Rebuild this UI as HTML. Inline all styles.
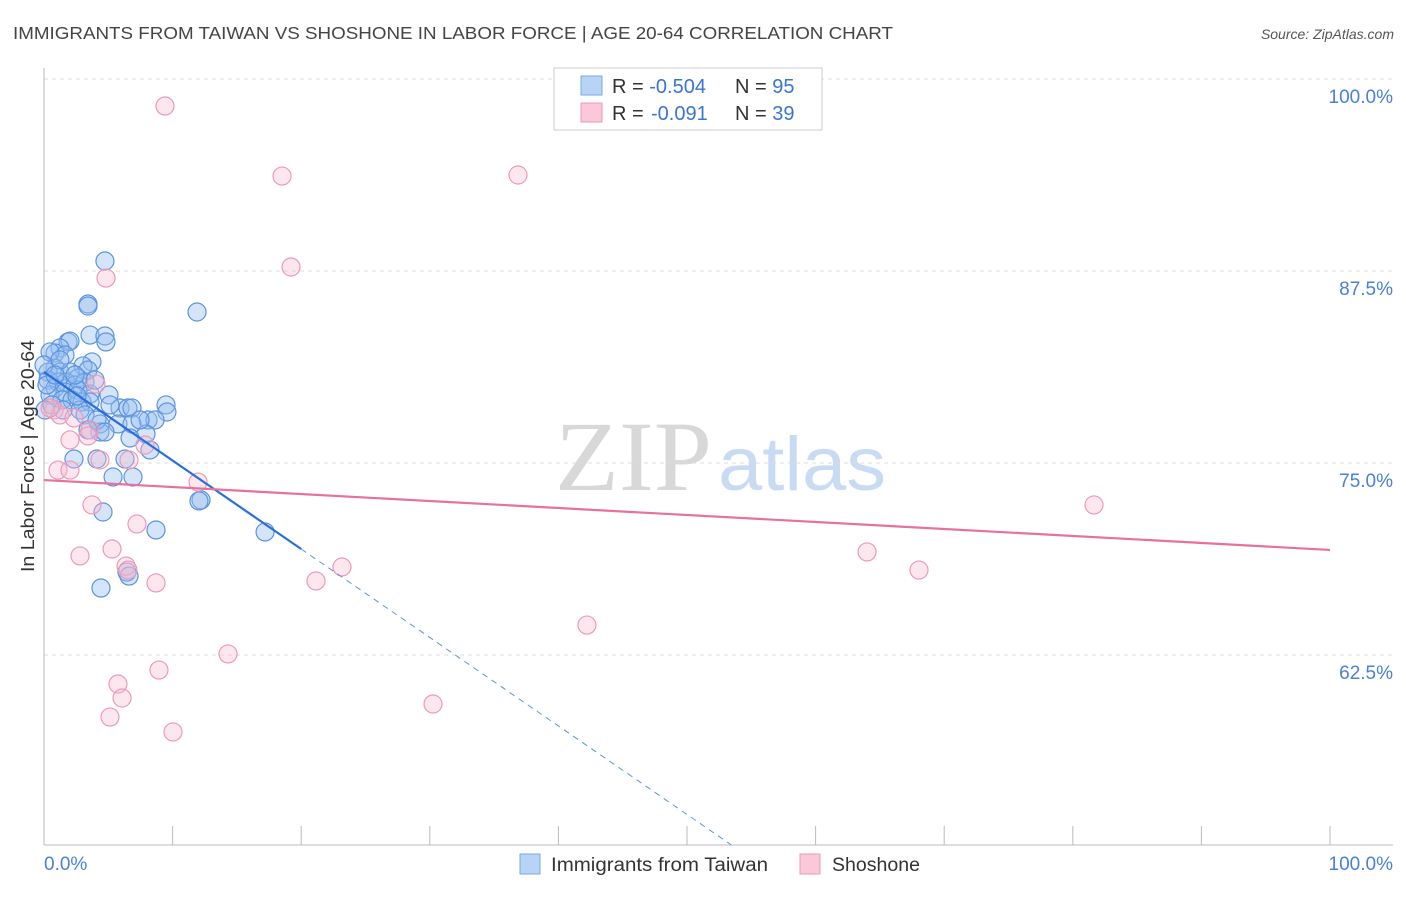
<!DOCTYPE html>
<html><head><meta charset="utf-8"><style>
body{margin:0;background:#fff;font-family:"Liberation Sans",sans-serif}
svg text{font-family:"Liberation Sans",sans-serif}
</style></head><body>
<svg id="chart" width="1406" height="892" xmlns="http://www.w3.org/2000/svg">
<text x="13" y="39" font-size="17.5" fill="#444" textLength="880" lengthAdjust="spacingAndGlyphs">IMMIGRANTS FROM TAIWAN VS SHOSHONE IN LABOR FORCE | AGE 20-64 CORRELATION CHART</text>
<text x="1394" y="39" font-size="14" fill="#555" font-style="italic" text-anchor="end">Source: ZipAtlas.com</text>
<g>
<text x="555" y="490" font-size="100" fill="#d8d8d8" textLength="157" lengthAdjust="spacingAndGlyphs" style="font-family:'Liberation Serif',serif">ZIP</text>
<text x="718" y="490" font-size="76" fill="#c8dbf2" textLength="168" lengthAdjust="spacingAndGlyphs">atlas</text>
</g>
<g id="grid"></g><g id="axes"></g><g id="pts"></g><g id="lines"></g>
<text transform="translate(34,456) rotate(-90)" font-size="18" fill="#333" text-anchor="middle" textLength="232" lengthAdjust="spacingAndGlyphs">In Labor Force | Age 20-64</text>
<g>
<rect x="554" y="68" width="268" height="62" fill="#fff" stroke="#ccc"/>
<rect x="581" y="76" width="21" height="19" fill="#b7d3f5" stroke="#7aa8e6"/>
<rect x="581" y="103" width="21" height="19" fill="#fac8d8" stroke="#ee9ab4"/>
<text x="612" y="93" font-size="20" fill="#333">R = <tspan fill="#3a74d4">-0.504</tspan><tspan x="735">N = </tspan><tspan fill="#3a74d4">95</tspan></text>
<text x="612" y="120" font-size="20" fill="#333">R = <tspan fill="#3a74d4" x="651">-0.091</tspan><tspan x="735">N = </tspan><tspan fill="#3a74d4">39</tspan></text>
</g>
<g>
<rect x="520" y="854" width="20" height="20" fill="#b7d3f5" stroke="#7aa8e6"/>
<text x="551" y="871" font-size="19" fill="#333" textLength="217" lengthAdjust="spacingAndGlyphs">Immigrants from Taiwan</text>
<rect x="800" y="854" width="20" height="20" fill="#fac8d8" stroke="#ee9ab4"/>
<text x="832" y="871" font-size="19" fill="#333" textLength="88" lengthAdjust="spacingAndGlyphs">Shoshone</text>
</g>
</svg>
<script>
const blueX=[4.74,3.42,3.42,11.9,3.58,4.74,4.82,1.87,2.02,1.24,0.86,1.63,3.73,3.03,3.42,0.47,0.86,0.31,1.24,2.02,2.64,0.31,1.09,1.71,2.41,3.19,0.86,1.63,2.64,3.58,5.05,0.47,1.4,2.18,2.95,3.58,5.91,6.53,6.84,9.49,9.56,0.62,2.8,3.19,8.09,8.63,4.35,5.75,6.84,4.35,6.69,7.93,2.33,4.12,6.3,8.24,5.37,6.92,12.21,12.05,4.59,8.71,17.19,6.45,6.61,4.43,0,0.23,0.08,1.24,2.41,3.97,0.86,1.48,2.57,4.12,4.74,3.42,7.47,5.13];
const blueY=[88.15,85.35,85.22,84.83,83.33,83.27,82.88,82.88,82.94,82.49,82.16,82.03,81.58,81.32,81.05,82.23,81.18,80.92,80.92,80.92,80.53,80.4,80.27,80.27,80.08,80.27,79.88,79.62,79.75,79.49,79.43,79.43,79.1,79.1,78.97,78.97,78.58,78.58,78.58,78.78,78.32,78.78,78.45,78.13,77.8,77.8,77.54,77.54,77.54,77.02,76.63,76.89,75.26,75.26,75.26,75.85,74.09,74.09,72.59,72.53,71.81,70.64,70.51,67.9,67.64,66.86,81.38,80.08,78.45,81.71,80.73,80.4,80.73,78.45,79.36,77.8,77.02,77.15,77.8,78.78];
const pinkX=[9.41,18.51,36.86,19.21,4.82,4.04,0.78,1.24,2.33,3.58,2.02,4.35,6.61,1.09,2.02,3.73,11.98,7.23,2.8,5.29,6.38,6.53,8.71,21.15,23.17,64.0,68.04,81.65,42.22,14.31,8.94,5.75,6.07,5.13,30.25,10.03,0.47,7.85,3.42];
const pinkY=[98.24,93.68,93.75,87.76,87.04,80.14,78.45,78.13,77.93,77.15,76.5,75.2,75.2,74.54,74.54,72.27,73.76,71.03,68.95,69.4,68.29,68.03,67.19,67.32,68.23,69.21,68.03,72.27,64.45,62.57,61.52,60.61,59.7,58.46,59.31,57.49,78.58,76.17,76.76];
const yTicks=[100,87.5,75,62.5];
const yTickLabels=["100.0%","87.5%","75.0%","62.5%"];
const blueTrend=[80.92,-0.576];
const pinkTrend=[73.89,-0.0455];
const NS="http://www.w3.org/2000/svg";
const sx=p=>44+p*12.86, sy=v=>79+(100-v)*15.36;
function mk(tag,attrs,parent){const e=document.createElementNS(NS,tag);for(const k in attrs)e.setAttribute(k,attrs[k]);document.getElementById(parent).appendChild(e);return e;}
yTicks.forEach((t,i)=>{
 const g=mk('line',{x1:44,x2:1393,y1:sy(t),y2:sy(t),stroke:'#ddd','stroke-dasharray':'4,4'},'grid');
 
 
 const l=mk('text',{x:1393,y:sy(t)+24,'font-size':19,fill:'#4a80d8','text-anchor':'end'},'axes');
 l.textContent=yTickLabels[i];
 
 
});
let a=mk('line',{x1:44,x2:44,y1:68,y2:845,stroke:'#bbb'},'axes');


a=mk('line',{x1:44,x2:1393,y1:845,y2:845,stroke:'#bbb'},'axes');


for(let i=0;i<=10;i++){const t=mk('line',{x1:sx(i*10),x2:sx(i*10),y1:826,y2:845,stroke:'#bbb'},'axes');
 
 }
let xl=mk('text',{x:44,y:870,'font-size':19,fill:'#4a80d8'},'axes');xl.textContent='0.0%';


xl=mk('text',{x:1393,y:870,'font-size':19,fill:'#4a80d8','text-anchor':'end'},'axes');xl.textContent='100.0%';


blueX.forEach((x,i)=>{const c=mk('circle',{cx:sx(x),cy:sy(blueY[i]),r:9,fill:'rgba(150,190,240,0.4)',stroke:'#5b93e0','stroke-width':1.2},'pts');
 
 });
pinkX.forEach((x,i)=>{const c=mk('circle',{cx:sx(x),cy:sy(pinkY[i]),r:9,fill:'rgba(248,185,205,0.35)',stroke:'#ec9ab5','stroke-width':1.2},'pts');
 
 });
const bEnd=(blueTrend[0]-50.13)/-blueTrend[1];
let ln=mk('line',{x1:sx(0),y1:sy(blueTrend[0]),x2:sx(20),y2:sy(blueTrend[0]+20*blueTrend[1]),stroke:'#2a6fd8','stroke-width':2.2},'lines');


ln=mk('line',{x1:sx(20),y1:sy(blueTrend[0]+20*blueTrend[1]),x2:sx(bEnd),y2:sy(blueTrend[0]+bEnd*blueTrend[1]),stroke:'#5b93e0','stroke-width':1,'stroke-dasharray':'6,5'},'lines');


ln=mk('line',{x1:sx(0),y1:sy(pinkTrend[0]),x2:sx(100),y2:sy(pinkTrend[0]+100*pinkTrend[1]),stroke:'#e8709a','stroke-width':2.2},'lines');


</script>
</body></html>
